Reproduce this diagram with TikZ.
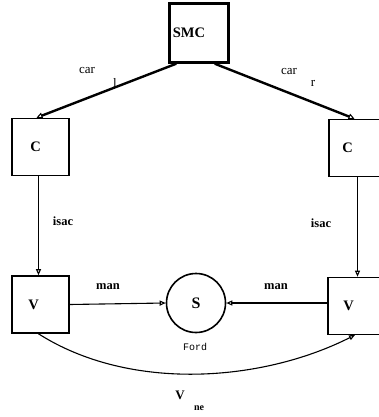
\documentclass[tikz,border=0pt]{standalone}
\usepackage{fontspec}
\setmainfont{Liberation Serif}
\setmonofont{Liberation Mono}
\usetikzlibrary{arrows.meta}
\begin{document}
\begin{tikzpicture}[x=1pt,y=-1pt,
  box/.style={draw, line width=1.6pt, minimum width=57pt, minimum height=57pt, inner sep=0pt},
  boxtxt/.style={font=\fontsize{14.5}{15}\selectfont\bfseries},
  lbl/.style={font=\fontsize{12.5}{13}\selectfont\bfseries, inner sep=0pt},
  lblr/.style={font=\fontsize{13}{14}\selectfont, inner sep=0pt},
  arr/.style={line width=1.1pt, -{Triangle[open, width=5pt, length=6pt]}},
  thick arr/.style={line width=2.4pt, -{Triangle[open, width=6pt, length=6pt, line width=1pt]}}
]
\useasboundingbox (0,0) rectangle (378,417);
% nodes
\node[box, line width=2.4pt, minimum width=59pt, minimum height=59pt,
      label={[boxtxt, xshift=-10pt]center:SMC}] (smc) at (199,33) {};
\node[box, label={[boxtxt, xshift=-5pt]center:C}] (cl) at (40.5,147) {};
\node[box, label={[boxtxt, xshift=-10pt]center:C}] (cr) at (357.5,148) {};
\node[box, label={[boxtxt, xshift=-7pt]center:V}] (vl) at (40.5,304.5) {};
\node[box, label={[boxtxt, xshift=-8pt]center:V}] (vr) at (356.5,306) {};
\node[draw, circle, line width=1.6pt, minimum size=59pt, inner sep=0pt,
      font=\fontsize{16}{17}\selectfont\bfseries] (s) at (196,303) {S};
% connectors
\draw[thick arr] ([xshift=8pt]smc.south west) -- ([xshift=-4pt]cl.north);
\draw[thick arr] ([xshift=-15pt]smc.south east) -- ([xshift=-3pt]cr.north);
\draw[arr] ([xshift=-2pt]cl.south) -- ([xshift=-2pt]vl.north);
\draw[arr] (cr.south) -- (vr.north west -| cr.south);
\draw[arr] (vl.east) -- (s.west);
\draw[arr] (vr.west |- s.east) -- (s.east);
\coordinate (ve) at (355,335);
\draw[arr] ([xshift=-2pt]vl.south) .. controls (130,392) and (262,382) .. (ve);
% labels
\node[lblr] (car1) at (87,71) {car};
\node[lblr] (l1) at (115,83) {l};
\node[lblr] (car2) at (289,72) {car};
\node[lblr] (r1) at (313,83) {r};
\node[lbl] (is1) at (63,221) {isac};
\node[lbl] (is2) at (321,223) {isac};
\node[lbl] (m1) at (108,287) {man};
\node[lbl] (m2) at (276,287) {man};
\node[inner sep=0pt, font=\fontsize{10}{11}\selectfont\ttfamily] (ford) at (195,347) {Ford};
\node[lbl, font=\fontsize{13}{14}\selectfont\bfseries] (vne) at (180,395) {V};
\node[lbl, font=\fontsize{10}{11}\selectfont\bfseries] (ne) at (199,408) {ne};
\end{tikzpicture}
\end{document}
